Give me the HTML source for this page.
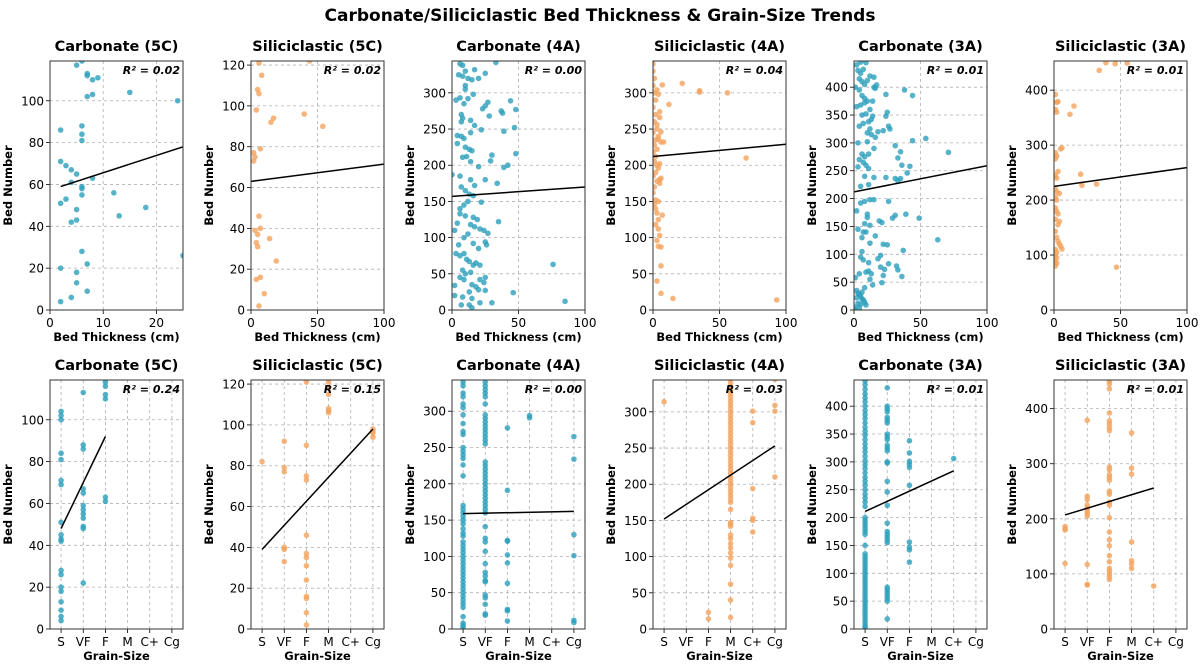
<!DOCTYPE html>
<html><head><meta charset="utf-8"><style>
body{margin:0;background:#fff;}
svg{display:block;font-family:"DejaVu Sans","Liberation Sans",sans-serif;}
</style></head><body>
<svg id="chart" width="1200" height="669" viewBox="0 0 1200 669" xmlns="http://www.w3.org/2000/svg">
<text x="600" y="21" text-anchor="middle" font-size="17" font-weight="bold">Carbonate/Siliciclastic Bed Thickness &amp; Grain-Size Trends</text>
</svg>
<script>
// ---- data ----
const grainLabels = ["S","VF","F","M","C+","Cg"];
const p1x=[2,2,3,4,5,4,2,3,5,4,5,6,6,6,6,6,6,8,7,8,7,7,8,9,5,6,15,24,12,13,18,25,6,7,2,5,5,7,4,2];
const p1y=[86,71,69,67,65,61,51,53,48,42,43,58,59,55,81,84,88,63,102,103,112,113,110,111,117,119,104,100,56,45,49,26,28,22,20,18,13,9,6,4];
const p2x=[6,44,8,5,6,4,15,17,40,54,7,2,3,2,6,3,7,5,4,5,14,19,7,4,10,6];
const p2y=[121,122,115,108,106,98,92,94,96,90,79,77,75,73,46,39,40,37,33,31,35,24,16,15,8,2];
const p3x=[6,8,33,5,8,10,12,15,17,25,20,10,10,3,6,12,16,9,25,27,23,28,37,38,44,48,7,8,7,14,17,22,39,47,4,7,9,14,4,10,13,15,8,11,14,20,29,30,39,42,48,0,6,14,17,25,34,7,10,13,16,22,6,9,12,6,10,16,19,14,17,21,24,27,35,12,9,16,25,26,20,3,6,9,11,13,16,18,21,8,10,14,6,9,21,25,24,15,18,20,13,25,46,2,8,15,21,30,7,13,15,76,85,2,5,2,4];
const p3y=[340,338,342,325,323,330,320,318,332,327,320,310,305,290,293,292,298,285,282,287,278,268,275,272,289,277,270,265,260,262,255,249,247,252,241,240,237,245,230,225,222,220,211,212,205,198,206,214,197,200,216,187,185,180,172,180,175,170,165,160,158,149,140,145,150,133,130,128,125,118,115,112,110,106,122,105,100,92,94,90,85,78,75,78,70,67,62,65,62,55,50,52,45,42,42,45,38,35,32,28,25,27,24,20,18,16,10,10,7,7,3,63,12,34,90,110,120];
const p4x=[0,0,1,0,1,2,0,2,1,3,0,4,2,1,3,0,2,1,3,4,2,0,3,5,1,0,2,1,2,3,3,4,5,5,3,6,4,6,8,5,6,5,7,22,35,35,56,12,70,7,4,4,5,3,4,6,6,3,6,15,93,4,2];
const p4y=[340,330,320,310,300,290,280,270,260,250,245,240,235,228,222,218,212,205,200,196,190,185,178,180,170,162,152,146,140,134,304,298,274,266,256,246,236,232,232,202,182,175,311,313,303,301,300,284,210,131,125,112,103,96,88,87,61,40,23,16,14,150,118];
const p5x=[2,5,9,3,5,7,4,6,10,12,15,1,4,8,15,17,16,6,8,10,14,2,5,8,12,6,9,14,11,13,4,7,12,18,10,13,16,22,24,25,26,27,3,10,15,6,8,11,4,7,9,3,11,8,15,5,11,2,5,8,12,15,10,10,8,12,7,3,9,16,6,12,26,24,31,33,35,31,33,35,36,40,42,44,54,44,38,24,71,49,39,31,29,19,21,63,37,22,25,20,18,6,5,7,11,11,9,13,12,14,8,20,23,26,32,33,36,21,22,1,4,2,3,4,5,6,7,3,5,8,1,4,9,2,6,0];
const p5y=[440,445,444,430,425,432,415,410,412,420,418,400,395,405,400,404,398,385,380,375,375,365,368,372,360,350,352,348,338,342,330,335,325,320,318,315,310,322,348,355,330,325,300,302,290,280,275,280,270,265,260,257,254,240,238,222,225,178,192,195,198,198,172,166,155,152,140,145,140,133,130,120,195,238,236,232,236,295,273,284,260,246,258,304,308,385,395,387,283,165,172,170,165,160,157,126,107,118,117,98,92,105,95,90,85,70,68,65,55,45,40,77,73,83,79,72,60,49,62,58,65,35,30,28,25,20,18,12,10,14,5,3,9,22,32,2];
const p6x=[39,46,55,34,1,2,3,1,2,15,12,5,6,1,2,1,3,1,2,20,21,32,1,2,4,1,2,1,2,3,1,4,3,1,2,3,4,5,6,1,2,1,2,1,2,1,47];
const p6y=[450,448,449,436,392,378,379,365,360,371,356,293,295,286,280,275,252,245,240,247,227,229,220,215,212,205,200,186,180,175,165,161,155,143,132,125,120,116,111,110,105,100,95,90,85,80,78];
const p7g=[0,0,0,0,0,0,0,0,0,0,0,0,0,0,0,0,0,0,0,1,1,1,1,1,1,1,1,1,1,1,1,2,2,2,2,2,2];
const p7y=[104,102,100,84,81,71,69,51,45,43,42,28,26,20,18,13,9,6,4,113,88,86,67,65,59,57,55,53,49,48,22,118,116,112,110,63,61];
const p8g=[0,1,1,1,1,1,1,2,2,2,2,2,2,2,2,2,2,2,2,2,3,3,3,3,3,3,5,5,5,5];
const p8y=[82,92,79,77,40,39,33,121,90,75,73,46,37,35,31,24,16,15,8,2,121,118,115,107,106,108,98,96,94,97];
const p9g=[0,0,0,0,0,0,0,0,0,0,0,0,0,0,0,0,0,0,0,0,0,0,0,0,0,0,0,0,0,0,0,0,0,0,0,0,0,0,0,0,0,0,0,0,0,0,0,0,1,1,1,1,1,1,1,1,1,1,1,1,1,1,1,1,1,1,1,1,1,1,1,1,1,1,1,1,1,1,1,1,1,1,1,1,1,1,1,1,1,1,1,1,2,2,2,2,2,2,2,2,2,2,3,3,5,5,5,5,5,5];
const p9y=[340,335,325,320,310,305,295,283,272,268,250,245,240,235,226,211,170,165,160,155,150,145,138,132,128,120,115,110,105,100,95,90,85,80,75,70,65,60,55,50,45,40,35,30,17,8,5,2,340,335,330,325,320,310,295,290,285,280,275,270,265,260,255,230,225,220,215,210,205,200,195,190,185,180,175,170,165,160,141,125,120,107,90,78,73,67,65,47,43,34,21,19,277,191,122,121,102,91,63,27,25,11,294,291,265,234,130,101,12,9];
const p10g=[0,2,2,3,3,3,3,3,3,3,3,3,3,3,3,3,3,3,3,3,3,3,3,3,3,3,3,3,3,3,3,3,3,3,3,3,3,3,3,3,3,3,3,3,3,3,3,3,3,3,3,3,4,4,4,4,4,4,5,5,5,5];
const p10y=[314,23,14,345,340,335,330,325,320,315,310,305,300,295,290,285,280,275,270,265,260,255,250,245,240,235,230,225,220,215,210,205,200,195,190,185,180,175,165,147,145,142,130,125,118,112,105,98,88,62,40,16,301,285,194,153,150,134,345,309,301,210];
const p11g=[0,0,0,0,0,0,0,0,0,0,0,0,0,0,0,0,0,0,0,0,0,0,0,0,0,0,0,0,0,0,0,0,0,0,0,0,0,0,0,0,0,0,0,0,0,0,0,0,0,0,0,0,0,0,0,0,0,0,0,0,0,0,0,0,0,0,0,1,1,1,1,1,1,1,1,1,1,1,1,1,1,1,1,1,1,1,1,1,1,1,1,1,1,1,1,1,1,1,2,2,2,2,2,2,2,2,2,2,4];
const p11y=[445,438,430,422,415,408,400,392,385,378,370,362,355,348,340,332,325,318,310,302,295,288,280,272,265,258,250,242,235,228,220,200,195,190,185,180,175,170,150,135,130,125,120,115,110,105,100,95,90,85,80,75,70,65,60,55,50,45,40,35,30,25,20,15,10,5,2,433,400,395,390,380,375,370,350,345,340,330,325,320,300,298,265,246,222,190,175,170,165,160,155,75,70,65,60,55,50,18,338,316,301,296,290,258,156,147,142,120,306];
const p12g=[0,0,0,0,1,1,1,1,1,1,1,1,1,1,1,2,2,2,2,2,2,2,2,2,2,2,2,2,2,2,2,2,2,2,2,2,2,2,2,2,2,2,2,3,3,3,3,3,3,3,4];
const p12y=[186,182,180,119,379,241,235,225,220,215,210,205,117,81,80,450,445,436,392,378,372,366,360,294,289,280,275,270,250,245,230,225,202,176,162,151,133,122,110,105,100,95,90,356,292,281,158,124,118,110,78];
const fit1=[2,59,25,78], fit2=[0,63,100,71.5], fit3=[0,157,100,170], fit4=[0,212,100,229], fit5=[0,212,100,259], fit6=[0,225,100,259];
const fit7=[0,48,2,92], fit8=[0,39,5,98], fit9=[0,159,5,162], fit10=[0,152,5,253], fit11=[0,211,4,284], fit12=[0,207,4,256];
const r2 = ["0.02","0.02","0.00","0.04","0.01","0.01","0.24","0.15","0.00","0.03","0.01","0.01"];

// ---- layout ----
const TEAL="#2a9fbc", ORANGE="#f4a25c";
const lefts=[50,251,452,653,854,1054], width=133;
const panels=[
 {t:"Carbonate (5C)",x:p1x,y:p1y,f:fit1,xmax:25,xt:[0,10,20],ymax:119,yt:[0,20,40,60,80,100],c:TEAL},
 {t:"Siliciclastic (5C)",x:p2x,y:p2y,f:fit2,xmax:100,xt:[0,50,100],ymax:122,yt:[0,20,40,60,80,100,120],c:ORANGE},
 {t:"Carbonate (4A)",x:p3x,y:p3y,f:fit3,xmax:100,xt:[0,50,100],ymax:344,yt:[0,50,100,150,200,250,300],c:TEAL},
 {t:"Siliciclastic (4A)",x:p4x,y:p4y,f:fit4,xmax:100,xt:[0,50,100],ymax:344,yt:[0,50,100,150,200,250,300],c:ORANGE},
 {t:"Carbonate (3A)",x:p5x,y:p5y,f:fit5,xmax:100,xt:[0,50,100],ymax:447,yt:[0,50,100,150,200,250,300,350,400],c:TEAL},
 {t:"Siliciclastic (3A)",x:p6x,y:p6y,f:fit6,xmax:100,xt:[0,50,100],ymax:453,yt:[0,100,200,300,400],c:ORANGE},
 {t:"Carbonate (5C)",x:p7g,y:p7y,f:fit7,cat:true,ymax:119,yt:[0,20,40,60,80,100],c:TEAL},
 {t:"Siliciclastic (5C)",x:p8g,y:p8y,f:fit8,cat:true,ymax:122,yt:[0,20,40,60,80,100,120],c:ORANGE},
 {t:"Carbonate (4A)",x:p9g,y:p9y,f:fit9,cat:true,ymax:343,yt:[0,50,100,150,200,250,300],c:TEAL},
 {t:"Siliciclastic (4A)",x:p10g,y:p10y,f:fit10,cat:true,ymax:344,yt:[0,50,100,150,200,250,300],c:ORANGE},
 {t:"Carbonate (3A)",x:p11g,y:p11y,f:fit11,cat:true,ymax:447,yt:[0,50,100,150,200,250,300,350,400],c:TEAL},
 {t:"Siliciclastic (3A)",x:p12g,y:p12y,f:fit12,cat:true,ymax:452,yt:[0,100,200,300,400],c:ORANGE}
];
const svg=document.getElementById('chart');
const NS="http://www.w3.org/2000/svg";
function mk(tag,attrs,parent,txt){const e=document.createElementNS(NS,tag);for(const k in attrs)e.setAttribute(k,attrs[k]);if(txt!==undefined)e.textContent=txt;(parent||svg).appendChild(e);return e;}
panels.forEach((p,i)=>{
  const row=i<6?0:1, L=lefts[i%6], R=L+width, T=row?380:61, B=row?629:310;
  const g=mk('g',{});
  
  
  const sx=p.cat? v=>L+(v+0.5)/6*width : v=>L+v/p.xmax*width;
  const sy=v=>B-v/p.ymax*(B-T);
  const xt=p.cat?[0,1,2,3,4,5]:p.xt;
  xt.forEach(v=>{const gl=mk('line',{x1:sx(v),x2:sx(v),y1:T,y2:B,stroke:"#b0b0b0","stroke-dasharray":"3,3","stroke-width":0.8},g);
    
    mk('line',{x1:sx(v),x2:sx(v),y1:B,y2:B+4,stroke:"#000","stroke-width":0.8},g);
    const tl=mk('text',{x:sx(v),y:B+17,"text-anchor":"middle","font-size":12},g,p.cat?grainLabels[v]:String(v));
    });
  p.yt.forEach(v=>{const gl=mk('line',{x1:L,x2:R,y1:sy(v),y2:sy(v),stroke:"#b0b0b0","stroke-dasharray":"3,3","stroke-width":0.8},g);
    
    mk('line',{x1:L-4,x2:L,y1:sy(v),y2:sy(v),stroke:"#000","stroke-width":0.8},g);
    const tl=mk('text',{x:L-6,y:sy(v)+4.5,"text-anchor":"end","font-size":12},g,String(v));
    });
  const cp='cp'+i; const cl=mk('clipPath',{id:cp},g); mk('rect',{x:L,y:T,width:width,height:B-T},cl);
  const pg=mk('g',{"clip-path":"url(#"+cp+")"},g);
  p.x.forEach((xv,j)=>{const c=mk('circle',{cx:sx(xv),cy:sy(p.y[j]),r:2.8,fill:p.c,"fill-opacity":0.8},pg);
    });
  const fl=mk('line',{x1:sx(p.f[0]),y1:sy(p.f[1]),x2:sx(p.f[2]),y2:sy(p.f[3]),stroke:"#000","stroke-width":1.5},pg);
  
  const fr=mk('rect',{x:L,y:T,width:width,height:B-T,fill:"none",stroke:"#333","stroke-width":1},g);
  
  const rt=mk('text',{x:R-3,y:T+13,"text-anchor":"end","font-size":11,"font-weight":"bold","font-style":"italic"},g,"R² = "+r2[i]);
  
  const tt=mk('text',{x:(L+R)/2,y:T-10,"text-anchor":"middle","font-size":14.5,"font-weight":"bold"},g,p.t);
  
  const xl=mk('text',{x:(L+R)/2,y:B+31,"text-anchor":"middle","font-size":11.5,"font-weight":"bold"},g,p.cat?"Grain-Size":"Bed Thickness (cm)");
  
  const yx=L-38, yy=(T+B)/2;
  const yl=mk('text',{x:yx,y:yy,"text-anchor":"middle","font-size":11.5,"font-weight":"bold",transform:"rotate(-90 "+yx+" "+yy+")"},g,"Bed Number");
  
});
</script>
</body></html>
